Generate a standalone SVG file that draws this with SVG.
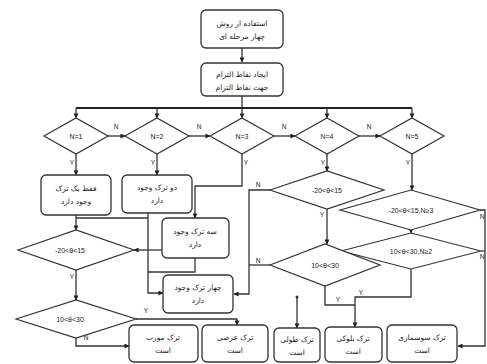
<svg xmlns="http://www.w3.org/2000/svg" width="487" height="364" viewBox="0 0 487 364">
<defs>
<marker id="ah" viewBox="0 0 6 6" refX="5.5" refY="3" markerWidth="5" markerHeight="5" orient="auto" markerUnits="userSpaceOnUse">
<path d="M0,0 L6,3 L0,6 z" fill="#222"/>
</marker>
<style>
.box{fill:#fff;stroke:#333;stroke-width:1.3}
.dia{fill:#fff;stroke:#333;stroke-width:1.2}
.ln{fill:none;stroke:#333;stroke-width:1.3}
.bus{fill:none;stroke:#222;stroke-width:2}
.fa{font-family:"DejaVu Sans",sans-serif;font-size:7.5px;fill:#222;text-anchor:middle}
.dt{font-family:"Liberation Sans",sans-serif;font-size:7px;fill:#222;text-anchor:middle}
.lb{font-family:"Liberation Sans",sans-serif;font-size:6.5px;fill:#222;text-anchor:middle}
</style>
</defs>
<rect width="487" height="364" fill="#fff"/>

<g id="connectors">
<path class="ln" d="M242,48 V62" marker-end="url(#ah)"/>
<path class="ln" d="M242,96 V108"/>
<path class="bus" d="M76,108 H412"/>
<path class="ln" d="M76,108 V118" marker-end="url(#ah)"/>
<path class="ln" d="M157,108 V118" marker-end="url(#ah)"/>
<path class="ln" d="M242,108 V118" marker-end="url(#ah)"/>
<path class="ln" d="M327,108 V118" marker-end="url(#ah)"/>
<path class="ln" d="M412,108 V118" marker-end="url(#ah)"/>
<path class="ln" d="M108,136 H125" marker-end="url(#ah)"/>
<path class="ln" d="M189,136 H210" marker-end="url(#ah)"/>
<path class="ln" d="M274,136 H295" marker-end="url(#ah)"/>
<path class="ln" d="M359,136 H380" marker-end="url(#ah)"/>
<text class="lb" x="116" y="129">N</text>
<text class="lb" x="199" y="129">N</text>
<text class="lb" x="284" y="129">N</text>
<text class="lb" x="369" y="129">N</text>
<path class="ln" d="M76,154 V175" marker-end="url(#ah)"/>
<path class="ln" d="M157,154 V175" marker-end="url(#ah)"/>
<path class="ln" d="M242,154 V186 H195 V218" marker-end="url(#ah)"/>
<path class="ln" d="M327,154 V171" marker-end="url(#ah)"/>
<path class="ln" d="M412,154 V190" marker-end="url(#ah)"/>
<text class="lb" x="72" y="165">Y</text>
<text class="lb" x="153" y="165">Y</text>
<text class="lb" x="246" y="165">Y</text>
<text class="lb" x="323" y="165">Y</text>
<text class="lb" x="408" y="165">Y</text>
<path class="ln" d="M327,209 V244" marker-end="url(#ah)"/>
<text class="lb" x="322" y="217">Y</text>
<path class="ln" d="M270,190 H249 V294 H234" marker-end="url(#ah)"/>
<text class="lb" x="258" y="187">N</text>
<path class="ln" d="M270,265 H249"/>
<text class="lb" x="258" y="263">N</text>
<path class="ln" d="M411,230 V233" marker-end="url(#ah)"/>
<path class="ln" d="M480,210 H485 V346 H458" marker-end="url(#ah)"/>
<text class="lb" x="482" y="219">N</text>
<path class="ln" d="M481,251 H485"/>
<text class="lb" x="482" y="259">N</text>
<path class="ln" d="M411,269 V297 H355 V327" marker-end="url(#ah)"/>
<text class="lb" x="361" y="295">Y</text>
<path class="ln" d="M325,286 V305 H355"/>
<text class="lb" x="338" y="302">Y</text>
<circle cx="297" cy="297" r="1.5" fill="#333"/>
<path class="ln" d="M297,297 V328" marker-end="url(#ah)"/>
<path class="ln" d="M136,319 H237 V325" marker-end="url(#ah)"/>
<text class="lb" x="146" y="313">Y</text>
<path class="ln" d="M76,338 V346 H129" marker-end="url(#ah)"/>
<text class="lb" x="86" y="340">N</text>
<path class="ln" d="M76,270 V300" marker-end="url(#ah)"/>
<text class="lb" x="72" y="279">Y</text>
<path class="ln" d="M76,215 V230" marker-end="url(#ah)"/>
<path class="ln" d="M148,213 V293 H163" marker-end="url(#ah)"/>
<path class="ln" d="M148,218 H76"/>
<path class="ln" d="M195,258 V272 H148"/>
<path class="ln" d="M162,250 H134" marker-end="url(#ah)"/>
</g>

<g id="start"><rect class="box" x="201" y="10" width="82" height="38" rx="5"/>
<text class="fa" x="242" y="26">استفاده از روش</text><text class="fa" x="242" y="39">چهار مرحله ای</text></g>
<g id="points"><rect class="box" x="201" y="63" width="82" height="33" rx="5"/>
<text class="fa" x="242" y="77">ایجاد نقاط التزام</text><text class="fa" x="242" y="90">جهت نقاط التزام</text></g>

<g id="n1"><polygon class="dia" points="44,136 76,118 108,136 76,154"/><text class="dt" x="76" y="139">N=1</text></g>
<g id="n2"><polygon class="dia" points="125,136 157,118 189,136 157,154"/><text class="dt" x="157" y="139">N=2</text></g>
<g id="n3"><polygon class="dia" points="210,136 242,118 274,136 242,154"/><text class="dt" x="242" y="139">N=3</text></g>
<g id="n4"><polygon class="dia" points="295,136 327,118 359,136 327,154"/><text class="dt" x="327" y="139">N=4</text></g>
<g id="n5"><polygon class="dia" points="380,136 412,118 444,136 412,154"/><text class="dt" x="412" y="139">N=5</text></g>

<g id="one"><rect class="box" x="41" y="175" width="70" height="40" rx="5"/>
<text class="fa" x="76" y="191">فقط یک ترک</text><text class="fa" x="76" y="204">وجود دارد</text></g>
<g id="two"><rect class="box" x="122" y="175" width="70" height="38" rx="5"/>
<text class="fa" x="157" y="190">دو ترک وجود</text><text class="fa" x="157" y="203">دارد</text></g>
<g id="three"><rect class="box" x="162" y="218" width="67" height="40" rx="5"/>
<text class="fa" x="195" y="234">سه ترک وجود</text><text class="fa" x="195" y="247">دارد</text></g>
<g id="four"><rect class="box" x="163" y="275" width="70" height="38" rx="5"/>
<text class="fa" x="198" y="290">چهار ترک وجود</text><text class="fa" x="198" y="303">دارد</text></g>

<g id="e"><polygon class="dia" points="270,190 327,171 384,190 327,209"/><text class="dt" x="327" y="193">-20&lt;θ&lt;15</text></g>
<g id="f"><polygon class="dia" points="340,210 411,190 480,210 411,230"/><text class="dt" x="411" y="213">-20&lt;θ&lt;15,N≥3</text></g>
<g id="g"><polygon class="dia" points="341,251 411,233 481,251 411,269"/><text class="dt" x="411" y="254">10&lt;θ&lt;30,N≥2</text></g>
<g id="h"><polygon class="dia" points="270,265 325,244 380,265 325,286"/><text class="dt" x="325" y="268">10&lt;θ&lt;30</text></g>
<g id="i"><polygon class="dia" points="18,250 76,230 134,250 76,270"/><text class="dt" x="70" y="253">-20&lt;θ&lt;15</text></g>
<g id="j"><polygon class="dia" points="16,319 76,300 136,319 76,338"/><text class="dt" x="70" y="322">10&lt;θ&lt;30</text></g>

<g id="diag"><rect class="box" x="129" y="325" width="69" height="37" rx="5"/>
<text class="fa" x="163" y="340">ترک مورب</text><text class="fa" x="163" y="353">است</text></g>
<g id="trans"><rect class="box" x="202" y="325" width="66" height="37" rx="5"/>
<text class="fa" x="235" y="340">ترک عرضی</text><text class="fa" x="235" y="353">است</text></g>
<g id="long"><rect class="box" x="274" y="328" width="46" height="34" rx="5"/>
<text class="fa" x="297" y="342">ترک طولی</text><text class="fa" x="297" y="355">است</text></g>
<g id="block"><rect class="box" x="325" y="327" width="57" height="35" rx="5"/>
<text class="fa" x="353" y="341">ترک بلوکی</text><text class="fa" x="353" y="354">است</text></g>
<g id="alligator"><rect class="box" x="387" y="325" width="70" height="37" rx="5"/>
<text class="fa" x="422" y="340">ترک سوسماری</text><text class="fa" x="422" y="353">است</text></g>
</svg>
